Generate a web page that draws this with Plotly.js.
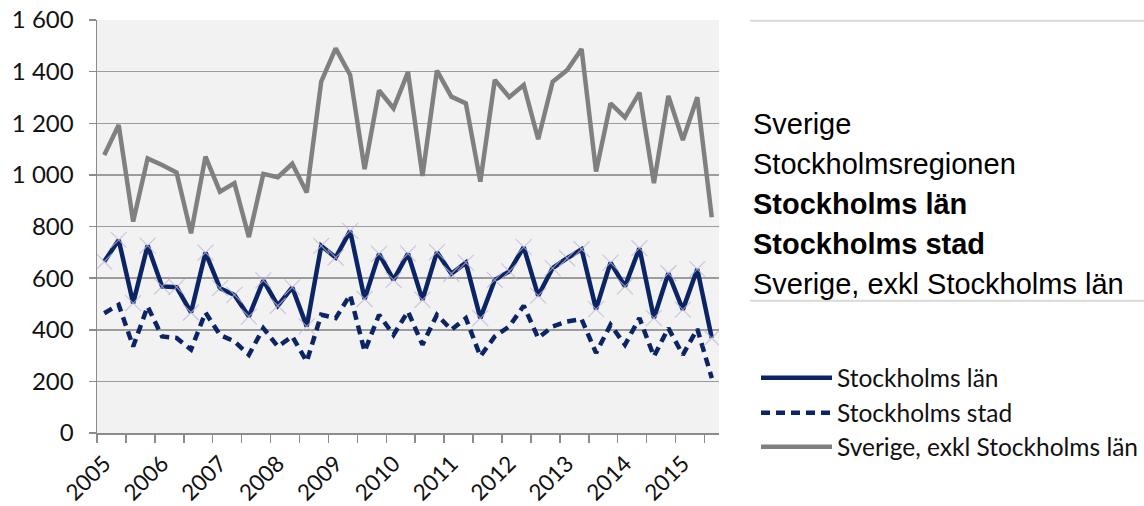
<!DOCTYPE html>
<html>
<head>
<meta charset="utf-8">
<script src="https://cdn.plot.ly/plotly-3.0.1.min.js"></script>
<style>html,body{margin:0;padding:0;background:#fff;}#chart{width:1144px;height:506px;}</style>
</head>
<body>
<div id="chart"></div>
<script>
const quarters = [
  "2005 K1","2005 K2","2005 K3","2005 K4",
  "2006 K1","2006 K2","2006 K3","2006 K4",
  "2007 K1","2007 K2","2007 K3","2007 K4",
  "2008 K1","2008 K2","2008 K3","2008 K4",
  "2009 K1","2009 K2","2009 K3","2009 K4",
  "2010 K1","2010 K2","2010 K3","2010 K4",
  "2011 K1","2011 K2","2011 K3","2011 K4",
  "2012 K1","2012 K2","2012 K3","2012 K4",
  "2013 K1","2013 K2","2013 K3","2013 K4",
  "2014 K1","2014 K2","2014 K3","2014 K4",
  "2015 K1","2015 K2","2015 K3"
];
const yearTickVals = ["2005 K1","2006 K1","2007 K1","2008 K1","2009 K1","2010 K1","2011 K1","2012 K1","2013 K1","2014 K1","2015 K1"];
const yearTickText = ["2005","2006","2007","2008","2009","2010","2011","2012","2013","2014","2015"];

const stockholmsLan = [664,748,503,726,568,565,467,699,561,535,451,591,493,564,413,725,680,783,519,694,593,695,516,701,617,660,445,593,626,720,532,639,677,712,480,660,568,716,445,619,478,635,368];
const stockholmsStad = [464,497,335,490,374,368,323,467,380,355,303,406,335,374,277,458,445,535,316,458,380,471,342,458,400,445,297,374,413,493,368,413,432,441,310,419,342,445,297,406,303,403,213];
const sverigeExkl = [1077,1193,819,1064,1038,1009,774,1071,935,968,759,1004,991,1043,932,1361,1490,1387,1022,1327,1258,1398,996,1404,1303,1277,974,1368,1301,1348,1138,1361,1406,1488,1013,1277,1223,1319,968,1306,1135,1301,836];

const tableLabels = ["Sverige","Stockholmsregionen","Stockholms län","Stockholms stad","Sverige, exkl Stockholms län"];
const tableBold = [false,false,true,true,false];
const legendLabels = ["Stockholms län","Stockholms stad","Sverige, exkl Stockholms län"];

const NAVY = "#0b2466";
const GRAY = "#808080";

// plot area in pixels
const PL = 97, PR = 719, PT = 20, PB = 433.3;
const px = v => (v - PL) / (PR - PL);
const py = v => (PB - v) / (PB - PT);

const traces = [
  {x: quarters, y: stockholmsLan, xaxis: "x2", yaxis: "y", mode: "markers", name: "Stockholmsregionen",
   marker: {symbol: "x-thin-open", size: 16, color: "rgba(190,182,218,0.75)", line: {width: 1.2, color: "rgba(190,182,218,0.75)"}},
   hoverinfo: "skip", showlegend: false},
  {x: quarters, y: sverigeExkl, mode: "lines", name: "Sverige, exkl Stockholms län",
   line: {color: GRAY, width: 4.5}, showlegend: false},
  {x: quarters, y: stockholmsStad, mode: "lines", name: "Stockholms stad",
   line: {color: NAVY, width: 4.5, dash: "9px,6px"}, showlegend: false},
  {x: quarters, y: stockholmsLan, mode: "lines", name: "Stockholms län",
   line: {color: NAVY, width: 4.5}, showlegend: false}
];

const shapes = [
  {type: "line", xref: "paper", yref: "paper", x0: px(750), x1: px(1144), y0: py(20.7), y1: py(20.7), line: {color: "#d9d9d9", width: 2}},
  {type: "line", xref: "paper", yref: "paper", x0: px(750), x1: px(1144), y0: py(301), y1: py(301), line: {color: "#d9d9d9", width: 2}}
];
const annotations = [];
tableLabels.forEach((t, i) => {
  annotations.push({xref: "paper", yref: "paper", x: px(751), y: py(124 + 40 * i), xanchor: "left", yanchor: "middle",
    text: tableBold[i] ? "<b>" + t + "</b>" : t, showarrow: false,
    font: {family: "Liberation Sans, Arial, sans-serif", size: 29, color: "#000"}});
});
const legStyles = [{color: NAVY, dash: "solid"}, {color: NAVY, dash: "9px,6px"}, {color: GRAY, dash: "solid"}];
const legY = [378, 413, 447];
legendLabels.forEach((t, i) => {
  shapes.push({type: "line", xref: "paper", yref: "paper", x0: px(761), x1: px(832), y0: py(legY[i]), y1: py(legY[i]),
    line: {color: legStyles[i].color, width: 4.5, dash: legStyles[i].dash}});
  annotations.push({xref: "paper", yref: "paper", x: px(835), y: py(legY[i]), xanchor: "left", yanchor: "middle",
    text: t, showarrow: false, font: {family: "Lato, Open Sans, sans-serif", size: 24.5, color: "#111"}});
});

const layout = {
  width: 1144, height: 506,
  margin: {l: PL, r: 1144 - PR, t: PT, b: 506 - PB},
  paper_bgcolor: "#ffffff",
  plot_bgcolor: "#f2f2f2",
  separators: ", ",
  showlegend: false,
  font: {family: "Lato, sans-serif", size: 24, color: "#111"},
  xaxis: {
    type: "category", categoryorder: "array", categoryarray: quarters,
    range: [-0.5, quarters.length - 0.5],
    tickson: "boundaries", ticks: "outside", ticklen: 8, tickcolor: "#8c8c8c", tickwidth: 1.5,
    showticklabels: false, showgrid: false, zeroline: false,
    showline: true, linecolor: "#8c8c8c", linewidth: 1.5
  },
  xaxis2: {
    type: "category", categoryorder: "array", categoryarray: quarters,
    overlaying: "x", anchor: "y", side: "bottom",
    range: [-0.5, quarters.length - 0.5],
    tickmode: "array", tickvals: yearTickVals, ticktext: yearTickText,
    tickangle: -45, ticks: "", showgrid: false, zeroline: false, showline: false,
    ticklabelstandoff: 12,
    tickfont: {family: "Lato, sans-serif", size: 22.5, color: "#111"}
  },
  yaxis: {
    range: [0, 1600], dtick: 200, tick0: 0,
    separatethousands: true,
    ticks: "outside", ticklen: 7, tickcolor: "#8c8c8c", tickwidth: 1.5,
    ticklabelstandoff: 10,
    showline: true, linecolor: "#8c8c8c", linewidth: 1.5,
    showgrid: true, gridcolor: "#9c9c9c", gridwidth: 1.5, zeroline: false,
    tickfont: {family: "Lato, sans-serif", size: 24, color: "#111"}
  },
  shapes: shapes,
  annotations: annotations
};

Plotly.newPlot("chart", traces, layout, {displayModeBar: false, staticPlot: true});
</script>
</body>
</html>
